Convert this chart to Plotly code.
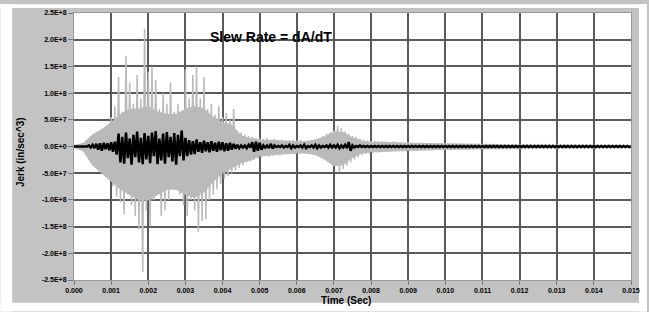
import numpy as np
import plotly.graph_objects as go

# Time axis: samples every 0.05 ms from 0 to 15 ms
sample_step_s = 0.00005
# Gray trace (raw jerk), values in units of 1e7 in/sec^3
gray_e7 = [
    0.1,-0.1,0.2,-0.2,0.3,-0.3,0.5,-0.6,0.9,-1.2,1.5,-2.0,2.2,-3.0,2.8,-4.2,3.2,-5.0,3.6,-5.5,
    5.5,-7.5,7.6,-9.5,13.0,-10.5,6.5,-12.7,17.0,-9.0,12.0,-11.0,8.0,-13.0,13.4,-15.5,9.0,-23.5,22.0,-12.0,
    14.0,-15.0,15.0,-10.0,12.5,-8.0,7.0,-13.0,10.0,-12.0,8.0,-10.0,12.0,-7.5,6.5,-8.0,8.0,-9.0,6.0,-11.0,
    14.4,-13.0,9.0,-10.0,13.4,-12.0,15.0,-16.0,9.0,-14.0,13.0,-13.6,7.0,-10.0,8.0,-9.0,6.0,-8.0,7.6,-7.0,
    5.5,-6.0,6.3,-5.5,5.0,-5.0,7.0,-4.5,3.0,-4.0,2.6,-3.5,2.2,-3.0,2.0,-2.8,1.8,-2.5,1.6,-2.2,
    1.5,-2.0,1.4,-1.8,1.6,-1.9,1.3,-1.7,1.4,-1.6,1.2,-1.6,1.3,-1.5,1.1,-1.5,1.2,-1.4,1.2,-1.5,
    1.1,-1.4,1.2,-1.3,1.0,-1.4,1.1,-1.3,1.2,-1.5,1.3,-1.6,1.6,-2.0,2.0,-2.4,2.4,-2.8,2.6,-3.2,
    3.0,-3.6,3.9,-4.8,3.4,-4.2,2.8,-3.6,2.4,-3.0,2.0,-2.4,1.8,-2.0,1.5,-1.6,1.2,-1.4,1.1,-1.3,
    1.0,-1.2,1.0,-1.1,0.9,-1.1,1.0,-1.0,0.9,-1.0,0.8,-1.0,0.9,-0.9,0.8,-0.9,0.8,-0.9,0.7,-0.9,
    0.7,-0.8,0.7,-0.8,0.6,-0.8,0.7,-0.7,0.6,-0.7,0.6,-0.7,0.6,-0.7,0.5,-0.6,0.6,-0.6,0.5,-0.6,
    0.5,-0.6,0.5,-0.6,0.5,-0.5,0.4,-0.5,0.5,-0.5,0.4,-0.5,0.4,-0.5,0.4,-0.5,0.4,-0.4,0.4,-0.5,
    0.4,-0.4,0.3,-0.4,0.4,-0.4,0.3,-0.4,0.3,-0.4,0.3,-0.4,0.3,-0.3,0.3,-0.4,0.3,-0.3,0.3,-0.3,
    0.3,-0.3,0.3,-0.3,0.3,-0.3,0.3,-0.3,0.3,-0.3,0.3,-0.3,0.3,-0.3,0.3,-0.3,0.3,-0.3,0.3,-0.3,
    0.3,-0.3,0.2,-0.3,0.3,-0.2,0.2,-0.3,0.3,-0.2,0.2,-0.3,0.2,-0.2,0.3,-0.2,0.2,-0.2,0.2,-0.3,
    0.2,-0.2,0.2,-0.2,0.2,-0.2,0.2,-0.2,0.2,-0.2,0.2,-0.2,0.2,-0.2,0.2,-0.2,0.2,-0.2,0.2,-0.2,
    0.2,
]
# Dense body of the gray trace, read every 0.25 ms (units of 1e7 in/sec^3)
body_step_s = 0.00025
gray_body_upper_e7 = [
    0.2,0.6,2.2,3.2,4.5,6.0,7.0,7.0,7.5,6.5,6.0,6.0,7.0,7.5,7.0,5.5,4.5,4.0,2.0,1.5,
    1.2,1.1,1.0,1.0,0.9,0.9,1.2,1.8,2.8,2.6,1.6,1.0,0.8,0.8,0.7,0.7,0.6,0.6,0.5,0.5,
    0.5,0.5,0.4,0.4,0.4,0.4,0.3,0.3,0.3,0.3,0.3,0.3,0.3,0.3,0.3,0.3,0.2,0.2,0.2,0.2,
    0.2,
]
gray_body_lower_e7 = [
    -0.2,-0.8,-3.5,-5.0,-6.5,-8.0,-9.0,-10.0,-10.0,-9.0,-8.0,-8.0,-9.0,-9.5,-8.5,-6.5,-5.0,-4.0,-3.0,-2.5,
    -1.8,-1.6,-1.4,-1.3,-1.2,-1.2,-1.5,-2.4,-3.6,-3.4,-2.0,-1.2,-1.0,-0.9,-0.9,-0.8,-0.7,-0.7,-0.6,-0.6,
    -0.5,-0.5,-0.5,-0.5,-0.4,-0.4,-0.4,-0.4,-0.3,-0.3,-0.3,-0.3,-0.3,-0.3,-0.3,-0.3,-0.2,-0.2,-0.2,-0.2,
    -0.2,
]
# Black trace (slew-rate limited jerk), values in units of 1e7 in/sec^3
black_e7 = [
    0.0,0.0,0.0,0.0,0.0,0.0,0.0,0.0,0.2,-0.2,0.3,-0.3,0.5,-0.6,0.6,-0.8,0.7,-0.5,0.6,-0.7,
    0.8,-1.0,0.9,-1.5,2.4,-3.0,1.8,-3.2,2.6,-2.2,1.5,-3.4,2.2,-2.0,2.8,-3.0,1.6,-3.3,2.5,-2.4,
    2.0,-3.1,2.6,-1.8,2.9,-3.3,1.5,-2.6,2.4,-3.2,2.7,-2.0,1.8,-2.8,2.5,-3.4,2.2,-1.8,3.0,-2.6,
    1.6,-1.8,1.2,-1.5,1.0,-1.4,1.3,-1.0,0.8,-1.2,1.1,-0.9,0.8,-1.1,1.0,-0.8,0.7,-1.0,0.9,-0.7,
    0.8,-0.9,0.6,-0.8,0.7,-0.6,0.5,-0.4,0.3,-0.3,0.2,-0.2,0.2,-0.3,0.3,-0.2,0.8,-1.0,0.9,-0.8,
    0.7,-0.6,0.2,-0.2,0.2,-0.3,0.5,-0.4,0.2,-0.1,0.1,-0.1,0.2,-0.2,0.1,-0.1,0.3,-0.3,0.2,-0.2,
    0.1,-0.1,0.2,-0.2,0.3,-0.3,0.1,-0.1,0.2,-0.2,0.3,-0.3,0.2,-0.2,0.1,-0.1,0.2,-0.2,0.3,-0.2,
    0.2,-0.2,0.3,-0.3,0.2,-0.2,0.3,-0.3,0.8,-0.8,0.2,-0.2,0.1,-0.1,0.2,-0.1,0.1,-0.1,0.1,-0.1,
    0.1,-0.1,0.1,-0.1,0.1,-0.1,0.1,-0.1,0.1,-0.1,0.1,-0.1,0.1,-0.1,0.1,-0.1,0.1,-0.1,0.1,-0.1,
    0.1,-0.1,0.1,-0.1,0.1,-0.1,0.1,-0.1,0.1,-0.1,0.1,-0.1,0.1,-0.1,0.1,-0.1,0.1,-0.1,0.1,-0.1,
    0.1,-0.1,0.1,-0.1,0.1,-0.1,0.1,-0.1,0.1,-0.1,0.1,-0.1,0.1,-0.1,0.1,-0.1,0.1,-0.1,0.1,-0.1,
    0.1,-0.1,0.1,-0.1,0.1,-0.1,0.1,-0.1,0.1,-0.1,0.1,-0.1,0.1,-0.1,0.1,-0.1,0.1,-0.1,0.1,-0.1,
    0.1,-0.1,0.1,-0.1,0.1,-0.1,0.1,-0.1,0.1,-0.1,0.1,-0.1,0.1,-0.1,0.1,-0.1,0.1,-0.1,0.1,-0.1,
    0.1,-0.1,0.1,-0.1,0.1,-0.1,0.1,-0.1,0.1,-0.1,0.1,-0.1,0.1,-0.1,0.1,-0.1,0.1,-0.1,0.1,-0.1,
    0.1,-0.1,0.1,-0.1,0.1,-0.1,0.1,-0.1,0.1,-0.1,0.1,-0.1,0.1,-0.1,0.1,-0.1,0.1,-0.1,0.1,-0.1,
    0.0,
]
x_tick_vals = [0.000,0.001,0.002,0.003,0.004,0.005,0.006,0.007,0.008,0.009,0.010,0.011,0.012,0.013,0.014,0.015]
x_tick_text = ["0.000","0.001","0.002","0.003","0.004","0.005","0.006","0.007","0.008","0.009",
               "0.010","0.011","0.012","0.013","0.014","0.015"]
y_tick_vals = [2.5e8,2.0e8,1.5e8,1.0e8,5.0e7,0.0,-5.0e7,-1.0e8,-1.5e8,-2.0e8,-2.5e8]
y_tick_text = ["2.5E+8","2.0E+8","1.5E+8","1.0E+8","5.0E+7","0.0E+0","-5.0E+7","-1.0E+8","-1.5E+8","-2.0E+8","-2.5E+8"]

t_gray = np.arange(len(gray_e7)) * sample_step_s
t_body = np.arange(len(gray_body_upper_e7)) * body_step_s
t_black = np.arange(len(black_e7)) * sample_step_s
gray_vals = np.array(gray_e7) * 1e7
body_up = np.array(gray_body_upper_e7) * 1e7
body_lo = np.array(gray_body_lower_e7) * 1e7
black_vals = np.array(black_e7) * 1e7

W, H = 649, 312
L, R, T, B = 74, 16, 9, 32
pw, ph = W - L - R, H - T - B

def px(x):
    return (x - L) / pw

def py(y):
    return (H - B - y) / ph

GRAY = "#bababa"
fig = go.Figure()
fig.add_trace(go.Scatter(x=t_body, y=body_up, mode="lines", line=dict(color=GRAY, width=1),
                         hoverinfo="skip", showlegend=False))
fig.add_trace(go.Scatter(x=t_body, y=body_lo, mode="lines", fill="tonexty", fillcolor=GRAY,
                         line=dict(color=GRAY, width=1), hoverinfo="skip", showlegend=False))
fig.add_trace(go.Scatter(x=t_gray, y=gray_vals, mode="lines",
                         line=dict(color=GRAY, width=1.5), hoverinfo="skip", showlegend=False))
fig.add_trace(go.Scatter(x=t_black, y=black_vals, mode="lines",
                         line=dict(color="#000000", width=2.5), hoverinfo="skip", showlegend=False))

white_strip = dict(type="rect", xref="paper", yref="paper", fillcolor="#ffffff",
                   line=dict(width=0), layer="below")
font_family = "Liberation Sans, Arial, sans-serif"
fig.update_layout(
    width=W, height=H,
    margin=dict(l=L, r=R, t=T, b=B, pad=0),
    paper_bgcolor="#c3c3c3",
    plot_bgcolor="#ffffff",
    font=dict(family=font_family, color="#000000"),
    xaxis=dict(range=[0, 0.015], tickvals=x_tick_vals, ticktext=x_tick_text,
               showgrid=True, gridcolor="#5a5a5a", gridwidth=1.5,
               ticks="outside", ticklen=4, tickcolor="#777777",
               tickfont=dict(size=7, family=font_family, weight="bold"),
               zeroline=False, showline=True, linecolor="#999999", mirror=True,
               layer="above traces"),
    yaxis=dict(range=[-2.5e8, 2.5e8], tickvals=y_tick_vals, ticktext=y_tick_text,
               showgrid=True, gridcolor="#5a5a5a", gridwidth=1.5,
               ticks="outside", ticklen=5, tickcolor="#777777",
               tickfont=dict(size=7, family=font_family, weight="bold"),
               zeroline=False, showline=True, linecolor="#999999", mirror=True,
               layer="above traces"),
    shapes=[
        dict(white_strip, x0=px(0), x1=px(12), y0=py(H), y1=py(0)),
        dict(white_strip, x0=px(641), x1=px(W), y0=py(H), y1=py(0)),
        dict(white_strip, x0=px(0), x1=px(W), y0=py(4), y1=py(0)),
        dict(white_strip, x0=px(0), x1=px(W), y0=py(H), y1=py(303)),
    ],
    annotations=[
        dict(text="Slew Rate = dA/dT", xref="paper", yref="paper", x=px(272), y=py(33),
             showarrow=False, xanchor="center", yanchor="middle",
             font=dict(size=14, family=font_family, weight="bold", color="#000000")),
        dict(text="Time (Sec)", xref="paper", yref="paper", x=px(347), y=py(301),
             showarrow=False, xanchor="center", yanchor="middle",
             font=dict(size=10, family=font_family, weight="bold", color="#000000")),
        dict(text="Jerk (in/sec^3)", xref="paper", yref="paper", x=px(21), y=py(150),
             showarrow=False, xanchor="center", yanchor="middle", textangle=-90,
             font=dict(size=10, family=font_family, weight="bold", color="#000000")),
    ],
)
fig.write_html("out.html", config={"displayModeBar": False},
               post_script="document.body.style.margin='0';document.body.style.overflow='hidden';")
